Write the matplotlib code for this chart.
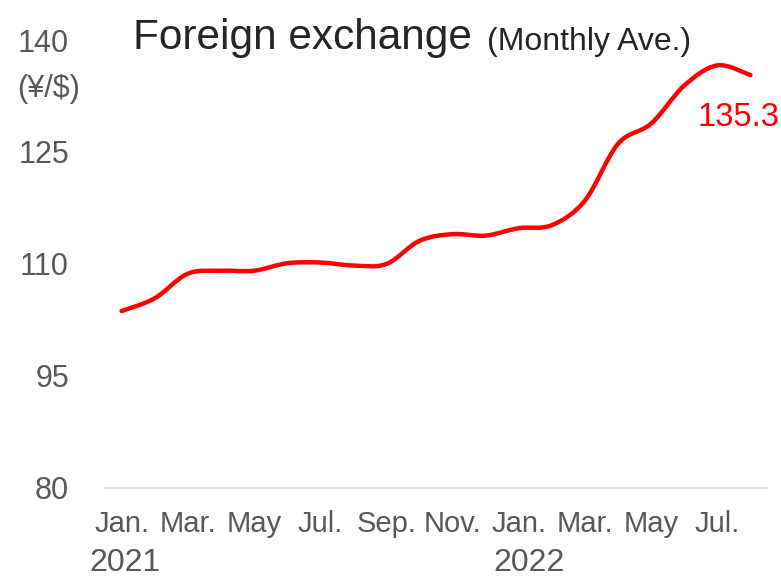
import numpy as np
import matplotlib.pyplot as plt
from matplotlib.path import Path
from matplotlib.patches import PathPatch
from matplotlib.transforms import blended_transform_factory

plt.rcParams['font.family'] = ['Liberation Sans', 'DejaVu Sans']

# monthly average yen per dollar, Jan 2021 - Aug 2022
meses = ["Jan.", "", "Mar.", "", "May", "", "Jul.", "", "Sep.", "", "Nov.", "",
         "Jan.", "", "Mar.", "", "May", "", "Jul.", ""]
valores = [103.7, 105.4, 108.7, 109.1, 109.1, 110.1, 110.2, 109.8, 110.0, 113.1,
           114.0, 113.8, 114.8, 115.2, 118.5, 126.1, 128.8, 133.9, 136.6, 135.3]
anios = ["2021", "2022"]
y_ticks = [80, 95, 110, 125, 140]

gris = "#595959"
rojo = "#ff0000"

fig = plt.figure(figsize=(7.81, 5.84), dpi=100)
ax = fig.add_axes([105 / 781, 1 - 488 / 584, 662 / 781, 448 / 584])

x = np.arange(len(valores))
y = np.array(valores)

# smooth line: catmull-rom segments as cubic bezier path
verts = [(x[0], y[0])]
codes = [Path.MOVETO]
n = len(x)
for i in range(n - 1):
    p0 = np.array([x[max(i - 1, 0)], y[max(i - 1, 0)]])
    p1 = np.array([x[i], y[i]])
    p2 = np.array([x[i + 1], y[i + 1]])
    p3 = np.array([x[min(i + 2, n - 1)], y[min(i + 2, n - 1)]])
    c1 = p1 + (p2 - p0) / 6
    c2 = p2 - (p3 - p1) / 6
    verts += [tuple(c1), tuple(c2), tuple(p2)]
    codes += [Path.CURVE4] * 3
ax.add_patch(PathPatch(Path(verts, codes), fill=False, edgecolor=rojo, lw=3.2,
                       capstyle='round', joinstyle='round'))

ax.set_xlim(-0.5, 19.5)
ax.set_ylim(80, 140)
for s in ["top", "right", "left"]:
    ax.spines[s].set_visible(False)
ax.spines["bottom"].set_color("#d9d9d9")
ax.spines["bottom"].set_linewidth(1.2)

ax.set_yticks(y_ticks)
ax.set_yticklabels([str(t) for t in y_ticks], fontsize=22, color=gris)
ax.set_xticks(x)
ax.set_xticklabels(meses, fontsize=21, color=gris)
ax.tick_params(length=0, axis='both')
ax.tick_params(axis='x', pad=16)
ax.tick_params(axis='y', pad=26)

trans = blended_transform_factory(ax.transData, fig.transFigure)
ax.text(0.1, 1 - 563 / 584, anios[0], transform=trans, ha='center', va='center',
        fontsize=23, color=gris)
ax.text(12.3, 1 - 563 / 584, anios[1], transform=trans, ha='center', va='center',
        fontsize=23, color=gris)

fig.text(49 / 781, 1 - 89 / 584, "(¥/$)", ha='center', va='center', fontsize=22, color=gris)

fig.text(133 / 781, 1 - 38 / 584, "Foreign exchange", ha='left', va='center',
         fontsize=30.5, color="#262626")
fig.text(487 / 781, 1 - 42 / 584, "(Monthly Ave.)", ha='left', va='center',
         fontsize=23, color="#262626")

ax.annotate(f"{valores[-1]}", xy=(x[-1], y[-1]), xytext=(738 / 781, 1 - 117 / 584),
            textcoords='figure fraction', ha='center', va='center', fontsize=23.5, color=rojo)

fig.savefig("out.png", dpi=100)
